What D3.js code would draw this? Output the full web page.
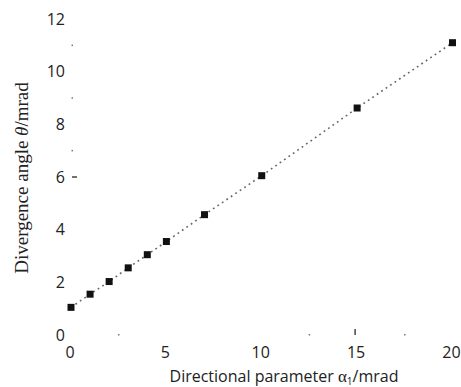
<!DOCTYPE html>
<html>
<head>
<meta charset="utf-8">
<script src="https://cdn.jsdelivr.net/npm/d3@7"></script>
<style>
  body { margin: 0; background: #fff; }
  .tick-label { font-family: "Open Sans", sans-serif; font-size: 16px; fill: #222; }
  .x-title { font-family: "Open Sans", sans-serif; font-size: 16px; fill: #222; }
  .y-title { font-family: "Liberation Serif", serif; font-size: 19px; fill: #222; }
</style>
</head>
<body>
<div id="chart"></div>
<script>
// Data
const alpha = [0, 1, 2, 3, 4, 5, 7, 10, 15, 20];          // directional parameter, mrad
const theta = [1.05, 1.55, 2.03, 2.55, 3.05, 3.55, 4.57, 6.05, 8.62, 11.1]; // divergence angle, mrad
const xTicks = [0, 5, 10, 15, 20];
const yTicks = [0, 2, 4, 6, 8, 10, 12];
// leftover axis marks visible in the scan
const yDots = [7, 9, 11];
const xDots = [2.5, 12.5, 17.5];

function renderChart() {
    const width = 461, height = 387;
    d3.select("#chart").selectAll("*").remove();
    const svg = d3.select("#chart")
        .append("svg")
            .attr("width", width)
            .attr("height", height);

    const x = d3.scaleLinear().domain([0, 20]).range([71, 452.5]);
    const y = d3.scaleLinear().domain([0, 12]).range([335, 19]);

    // tick labels
    svg.selectAll(".ylab")
        .data(yTicks)
        .enter().append("text")
            .attr("class", "tick-label")
            .attr("x", 65)
            .attr("y", d => y(d))
            .attr("dy", "0.36em")
            .attr("text-anchor", "end")
            .text(d => d);

    svg.selectAll(".xlab")
        .data(xTicks)
        .enter().append("text")
            .attr("class", "tick-label")
            .attr("x", d => x(d) - 1)
            .attr("y", 358)
            .attr("text-anchor", "middle")
            .text(d => d);

    // scattered axis remnants
    svg.selectAll(".ydot")
        .data(yDots)
        .enter().append("rect")
            .attr("x", x(0) + 0.5)
            .attr("y", d => y(d) - 0.75)
            .attr("width", 1.5)
            .attr("height", 1.5)
            .attr("fill", "#777");
    svg.append("line")
        .attr("x1", x(0) + 1).attr("x2", x(0) + 6)
        .attr("y1", y(6)).attr("y2", y(6))
        .attr("stroke", "#444").attr("stroke-width", 1.5);

    svg.selectAll(".xdot")
        .data(xDots)
        .enter().append("rect")
            .attr("x", d => x(d) - 0.75)
            .attr("y", y(0) - 1)
            .attr("width", 1.5)
            .attr("height", 1.5)
            .attr("fill", "#777");
    svg.append("line")
        .attr("x1", x(15) - 2).attr("x2", x(15) - 2)
        .attr("y1", y(0) - 6).attr("y2", y(0))
        .attr("stroke", "#444").attr("stroke-width", 1.5);

    // dotted line through the points
    const pts = alpha.map((a, i) => [a, theta[i]]);
    svg.append("path")
        .datum(pts)
        .attr("fill", "none")
        .attr("stroke", "#666")
        .attr("stroke-width", 1.6)
        .attr("stroke-dasharray", "1.8,3.6")
        .attr("d", d3.line().x(d => x(d[0])).y(d => y(d[1])));

    // square markers
    svg.selectAll(".pt")
        .data(pts)
        .enter().append("rect")
            .attr("x", d => x(d[0]) - 3.5)
            .attr("y", d => y(d[1]) - 3.5)
            .attr("width", 7)
            .attr("height", 7)
            .attr("fill", "#111");

    // axis titles
    const xt = svg.append("text")
        .attr("class", "x-title")
        .attr("x", 284)
        .attr("y", 382)
        .attr("text-anchor", "middle");
    xt.append("tspan").text("Directional parameter ");
    xt.append("tspan").attr("font-family", "Liberation Serif, serif").attr("font-size", "17px").text("α");
    xt.append("tspan").attr("font-size", "10px").attr("dy", "3").text("1");
    xt.append("tspan").attr("dy", "-3").text("/mrad");

    const yt = svg.append("text")
        .attr("class", "y-title")
        .attr("transform", "translate(28,178) rotate(-90)")
        .attr("text-anchor", "middle");
    yt.append("tspan").text("Divergence angle ");
    yt.append("tspan").attr("font-style", "italic").text("θ");
    yt.append("tspan").text("/mrad");
}

renderChart();
</script>
</body>
</html>
